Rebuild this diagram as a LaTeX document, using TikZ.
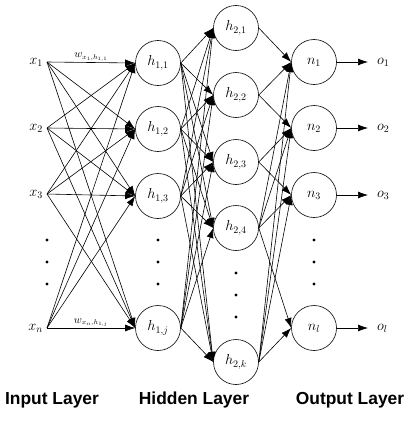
\documentclass[tikz,border=0pt]{standalone}
\usepackage{fontspec}
\newfontfamily\labfont{Liberation Sans}
\usetikzlibrary{arrows.meta}
\begin{document}
\begin{tikzpicture}[x=1pt,y=-1pt,
  neuron/.style={circle,draw,line width=0.6pt,minimum size=45pt,inner sep=0pt,font=\fontsize{14}{16}\selectfont},
  inlab/.style={anchor=east,inner sep=4pt,font=\fontsize{14}{16}\selectfont},
  outlab/.style={anchor=west,inner xsep=9pt,inner ysep=2pt,font=\fontsize{14}{16}\selectfont},
  wlab/.style={above,inner sep=1pt,font=\fontsize{10.5}{12}\selectfont},
  conn/.style={line width=0.6pt,-{Latex[length=10pt,width=7pt]}},
  dotn/.style={circle,fill,inner sep=0pt,minimum size=3.4pt},
  layer/.style={font=\labfont\bfseries\fontsize{17.4}{20}\selectfont}
]
\useasboundingbox (0,0) rectangle (416,423);
% input
\node[inlab] (x1) at (47,62) {$x_1$};
\node[inlab] (x2) at (47,128) {$x_2$};
\node[inlab] (x3) at (47,194) {$x_3$};
\node[inlab] (xn) at (47,328) {$x_n$};
\foreach \y [count=\k] in {240,262,284}{\node[dotn] (xd\k) at (47,\y) {};}
% hidden 1
\node[neuron] (a1) at (158,63) {$h_{1,1}$};
\node[neuron] (a2) at (158,129) {$h_{1,2}$};
\node[neuron] (a3) at (158,196) {$h_{1,3}$};
\node[neuron] (aj) at (158,328) {$h_{1,j}$};
\foreach \y [count=\k] in {240,262,284}{\node[dotn] (ad\k) at (158,\y) {};}
% hidden 2
\node[neuron] (b1) at (236,28) {$h_{2,1}$};
\node[neuron] (b2) at (236,95) {$h_{2,2}$};
\node[neuron] (b3) at (236,162) {$h_{2,3}$};
\node[neuron] (b4) at (236,228) {$h_{2,4}$};
\node[neuron] (bk) at (236,362) {$h_{2,k}$};
\foreach \y [count=\k] in {273,295,317}{\node[dotn] (bd\k) at (236,\y) {};}
% output
\node[neuron] (n1) at (314,62) {$n_1$};
\node[neuron] (n2) at (314,128) {$n_2$};
\node[neuron] (n3) at (314,195) {$n_3$};
\node[neuron] (nl) at (314,328) {$n_l$};
\foreach \y [count=\k] in {240,262,284}{\node[dotn] (nd\k) at (314,\y) {};}
\node[outlab] (o1) at (368,62) {$o_1$};
\node[outlab] (o2) at (368,128) {$o_2$};
\node[outlab] (o3) at (368,195) {$o_3$};
\node[outlab] (ol) at (368,328) {$o_l$};
% connections
\foreach \i in {x1,x2,x3,xn}{\foreach \j in {a1,a2,a3,aj}{\draw[conn] (\i.east) -- (\j.west);}}
\foreach \i in {a1,a2,a3,aj}{\foreach \j in {b1,b2,b3,b4,bk}{\draw[conn] (\i.east) -- (\j.west);}}
\foreach \i/\j in {b1/n1,b2/n1,b2/n2,b3/n2,b3/n3,b4/n1,b4/n2,b4/n3,b4/nl,bk/n1,bk/n2,bk/n3,bk/nl}{\draw[conn] (\i.east) -- (\j.west);}
\draw[conn] (n1.east) -- (o1.west);
\draw[conn] (n2.east) -- (o2.west);
\draw[conn] (n3.east) -- (o3.west);
\draw[conn] (nl.east) -- (ol.west);
\path (x1.east) -- node[wlab] (w1) {$w_{x_1,h_{1,1}}$} (a1.west);
\path (xn.east) -- node[wlab] (wn) {$w_{x_n,h_{1,j}}$} (aj.west);
% layer labels
\node[layer] (L1) at (52,400) {Input Layer};
\node[layer] (L2) at (194,400) {Hidden Layer};
\node[layer] (L3) at (350,400) {Output Layer};
\end{tikzpicture}
\end{document}
